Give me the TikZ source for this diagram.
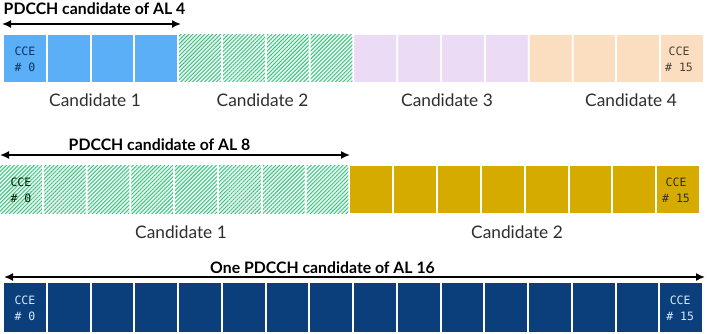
\documentclass[tikz,border=0pt]{standalone}
\usepackage{fontspec}
\setmainfont{Lato}
\newfontfamily\ccefont{DejaVu Sans Mono}
\usetikzlibrary{patterns.meta,arrows.meta}
\definecolor{cblue}{HTML}{5AAFF6}
\definecolor{cgreenl}{HTML}{3EBF84}
\definecolor{cgreenbg}{HTML}{E6F6EE}
\definecolor{clilac}{HTML}{D8BEEA}
\definecolor{clilacbg}{HTML}{F1E5F8}
\definecolor{corange}{HTML}{F7C28A}
\definecolor{corangebg}{HTML}{FDE7CF}
\definecolor{cgold}{HTML}{D6AB00}
\definecolor{cnavy}{HTML}{0B3F7C}
\definecolor{ctext}{HTML}{2E2E2E}
\begin{document}
\begin{tikzpicture}[x=1pt,y=-1pt,
  cell/.style={draw=none,inner sep=0pt,outer sep=0pt,minimum width=41.8pt,minimum height=47pt,anchor=north west},
  bluecell/.style={cell,fill=cblue},
  greencell/.style={cell,fill=cgreenbg,postaction={pattern={Lines[angle=45,distance=2.8pt,line width=0.9pt]},pattern color=cgreenl}},
  lilaccell/.style={cell,fill=clilacbg,postaction={pattern={Dots[distance=2pt,radius=0.55pt]},pattern color=clilac}},
  orangecell/.style={cell,fill=corangebg,postaction={pattern={Dots[distance=2pt,radius=0.6pt]},pattern color=corange}},
  goldcell/.style={cell,fill=cgold},
  navycell/.style={cell,fill=cnavy,minimum height=49pt},
  ccelbl/.style={font=\ccefont\fontsize{11.5}{16}\selectfont,align=center,inner sep=0pt},
  title/.style={font=\bfseries\fontsize{15.8}{18}\selectfont,text=black,anchor=base,inner sep=0pt},
  cand/.style={font=\fontsize{17.3}{20}\selectfont,text=ctext,anchor=base,inner sep=0pt},
  dimarrow/.style={line width=1.6pt,{Latex[length=9pt,width=8pt]}-{Latex[length=9pt,width=8pt]}}
]
\useasboundingbox (0,0) rectangle (707,334);
% ---------- row 1 (AL 4) ----------
\foreach \i in {1,...,4} {\node[bluecell] (ra\i) at ({4+43.81*(\i-1)},35) {};}
\foreach \i in {5,...,8} {\node[greencell] (ra\i) at ({4+43.81*(\i-1)},35) {};}
\foreach \i in {9,...,12} {\node[lilaccell] (ra\i) at ({4+43.81*(\i-1)},35) {};}
\foreach \i in {13,...,16} {\node[orangecell] (ra\i) at ({4+43.81*(\i-1)},35) {};}
\node[ccelbl,text=cnavy!80!black] (ra0lbl) at ([yshift=-1pt]ra1.center) {CCE\\\# 0};
\node[ccelbl,text=ctext!80!brown] (ra15lbl) at ([xshift=-3pt,yshift=-1pt]ra16.center) {CCE\\\# 15};
\coordinate (a1l) at (2,24);
\coordinate (a1r) at (181,24);
\draw[dimarrow] (a1l) -- (a1r);
\node[title] (t1) at (94.5,15) {PDCCH candidate of AL 4};
\node[cand] (c11) at (95,107) {Candidate 1};
\node[cand] (c12) at (262.5,107) {Candidate 2};
\node[cand] (c13) at (447,107) {Candidate 3};
\node[cand] (c14) at (631,107) {Candidate 4};
% ---------- row 2 (AL 8) ----------
\foreach \i in {1,...,8} {\node[greencell] (rb\i) at ({0+43.81*(\i-1)},166) {};}
\foreach \i in {9,...,16} {\node[goldcell] (rb\i) at ({0+43.81*(\i-1)},166) {};}
\node[ccelbl,text=black!85!green] (rb0lbl) at ([yshift=-1pt]rb1.center) {CCE\\\# 0};
\node[ccelbl,text=ctext] (rb15lbl) at ([xshift=-2pt,yshift=-1pt]rb16.center) {CCE\\\# 15};
\coordinate (a2l) at (0,155);
\coordinate (a2r) at (350,155);
\draw[dimarrow] (a2l) -- (a2r);
\node[title] (t2) at (159.5,151) {PDCCH candidate of AL 8};
\node[cand] (c21) at (181,238) {Candidate 1};
\node[cand] (c22) at (517,238) {Candidate 2};
% ---------- row 3 (AL 16) ----------
\foreach \i in {1,...,16} {\node[navycell] (rc\i) at ({4+43.75*(\i-1)},283) {};}
\node[ccelbl,text=cblue!25!white] (rc0lbl) at ([yshift=-1pt]rc1.center) {CCE\\\# 0};
\node[ccelbl,text=cblue!25!white] (rc15lbl) at ([xshift=-1pt,yshift=-1pt]rc16.center) {CCE\\\# 15};
\coordinate (a3l) at (4,277);
\coordinate (a3r) at (705,277);
\draw[dimarrow] (a3l) -- (a3r);
\node[title] (t3) at (322.5,273) {One PDCCH candidate of AL 16};
\end{tikzpicture}
\end{document}
